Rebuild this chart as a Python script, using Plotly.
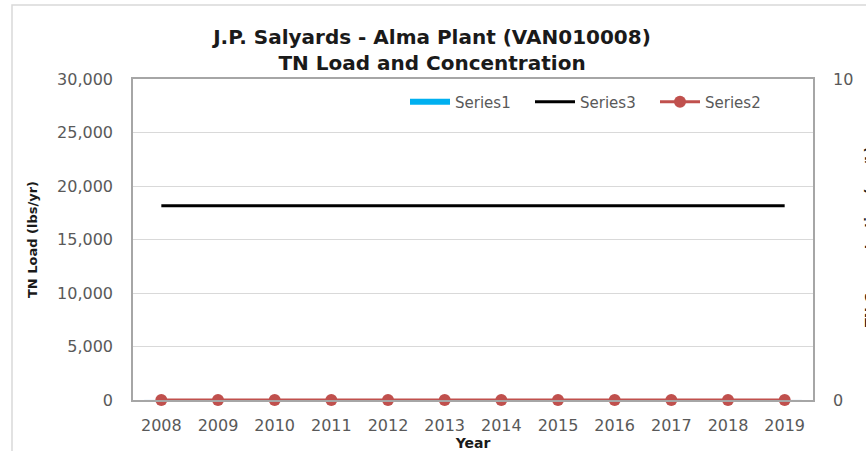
import plotly.graph_objects as go

years = ["2008", "2009", "2010", "2011", "2012", "2013", "2014", "2015", "2016", "2017", "2018", "2019"]
series1 = [0, 0, 0, 0, 0, 0, 0, 0, 0, 0, 0, 0]
series3 = [18150] * 12
series2 = [0, 0, 0, 0, 0, 0, 0, 0, 0, 0, 0, 0]
y_ticks = [0, 5000, 10000, 15000, 20000, 25000, 30000]
y_tick_labels = ["0", "5,000", "10,000", "15,000", "20,000", "25,000", "30,000"]
y2_ticks = [0, 10]

W, H = 866, 451
L, R, T, B = 133, 813, 79, 400

FONT = "'DejaVu Sans', sans-serif"
GRAY = "#595959"
DARK = "#1a1a1a"
BLUE = "#00B0F0"

fig = go.Figure()
# Series1 (columns, all zero) plus a legend swatch drawn as a wide band like the original
fig.add_trace(go.Scatter(x=years, y=series1, name="Series1", mode="lines", legendgroup="s1",
                         line=dict(color=BLUE, width=6), yaxis="y3", hoverinfo="skip"))
fig.add_trace(go.Bar(x=years, y=series1, name="Series1", marker_color=BLUE,
                     legendgroup="s1", showlegend=False))
fig.add_trace(go.Scatter(x=years, y=series3, name="Series3", mode="lines",
                         line=dict(color="black", width=3)))
fig.add_trace(go.Scatter(x=years, y=series2, name="Series2", mode="lines+markers",
                         line=dict(color="#C0504D", width=3),
                         marker=dict(color="#C0504D", size=12), yaxis="y2", cliponaxis=False))

def px(x):
    return (x - L) / (R - L)

def py(y):
    return (B - y) / (B - T)

fig.update_layout(
    width=W, height=H,
    margin=dict(l=L, r=W - R, t=T, b=H - B, pad=0, autoexpand=False),
    paper_bgcolor="white", plot_bgcolor="white",
    font=dict(family=FONT, color=GRAY, size=15),
    title=dict(text="<b>J.P. Salyards - Alma Plant (VAN010008)<br>TN Load and Concentration</b>",
               x=432 / W, xanchor="center", y=1 - 44 / H, yanchor="middle",
               font=dict(family=FONT, size=20, color=DARK)),
    showlegend=True,
    legend=dict(orientation="h", x=px(405), y=py(102), xanchor="left", yanchor="middle",
                bgcolor="rgba(0,0,0,0)", font=dict(size=15, color=GRAY),
                traceorder="normal", itemwidth=40, entrywidth=70),
    xaxis=dict(type="category", range=[-0.5, 11.5], showgrid=False,
               showline=True, linecolor="#a6a6a6", linewidth=1.5, mirror=True,
               ticks="", ticklabelstandoff=10, tickfont=dict(size=16, color=GRAY),
               automargin=False,
               title=dict(text="<b>Year</b>", font=dict(size=14, color=DARK), standoff=1)),
    yaxis=dict(range=[0, 30000], tickvals=y_ticks, ticktext=y_tick_labels,
               showgrid=True, gridcolor="#d9d9d9", gridwidth=1,
               showline=True, linecolor="#a6a6a6", linewidth=1.5, mirror=True,
               ticks="", ticklabelstandoff=15, zeroline=False, automargin=False,
               tickfont=dict(size=16, color=GRAY),
               title=dict(text="<b>TN Load (lbs/yr)</b>", font=dict(size=13, color=DARK), standoff=17)),
    yaxis2=dict(range=[0, 10], tickvals=y2_ticks, overlaying="y", side="right",
                showgrid=False, zeroline=False, showline=False, ticks="", automargin=False,
                ticklabelstandoff=19, tickfont=dict(size=16, color=GRAY)),
    yaxis3=dict(range=[1, 2], overlaying="y", visible=False, fixedrange=True),
    bargap=0.4,
)

fig.add_annotation(text="<b>TN Concentration (mg/L)</b>", xref="paper", yref="paper",
                   x=px(869), y=py(237), xanchor="center", yanchor="middle",
                   textangle=-90, showarrow=False, font=dict(size=13, color=DARK))

fig.add_shape(type="rect", xref="paper", yref="paper",
              x0=px(12), x1=px(900), y0=py(470), y1=py(5),
              line=dict(color="#d9d9d9", width=1.5), layer="below")

fig.write_html("out.html", config={"displayModeBar": False},
               post_script="document.body.style.margin='0';document.body.style.overflow='hidden';")
